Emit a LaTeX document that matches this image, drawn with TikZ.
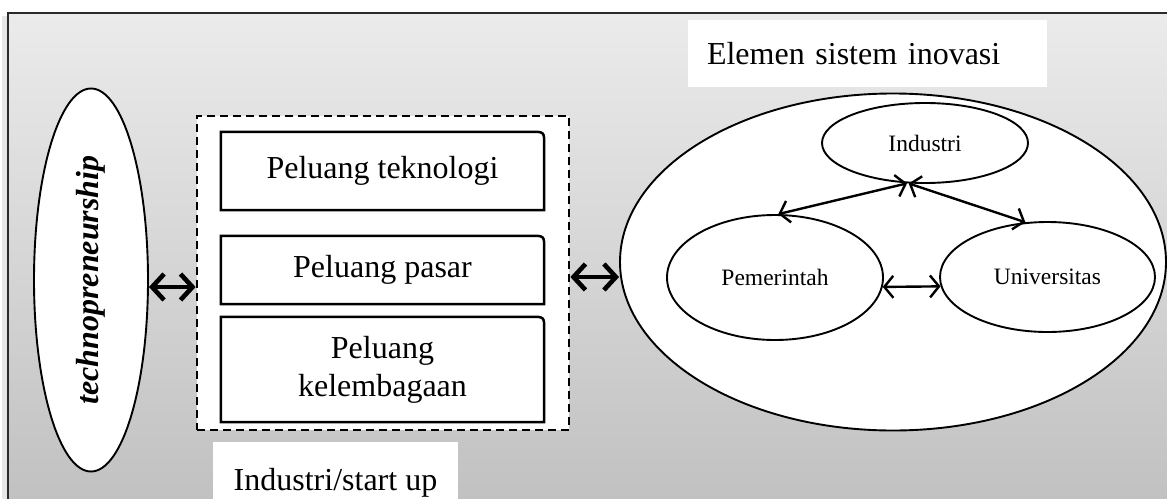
\documentclass[tikz,border=0pt]{standalone}
\usepackage{fontspec}
\setmainfont{Liberation Serif}
\usetikzlibrary{shapes.geometric,arrows.meta}
\definecolor{bgtop}{HTML}{EBEBEB}
\definecolor{bgbot}{HTML}{C1C1C1}
\definecolor{shadowc}{HTML}{E6E6E6}
\definecolor{framec}{HTML}{2A2A2A}
\newcommand\fbig{\fontsize{32}{38}\selectfont}
\newcommand\fsmall{\fontsize{23.5}{28}\selectfont}
\begin{document}
\begin{tikzpicture}[x=1pt,y=-1pt,
  ell/.style={ellipse, draw, fill=white, line width=1.9pt, inner sep=0pt},
  oppbox/.style={minimum width=323pt, inner sep=0pt, font=\fbig, align=center},
  boxline/.style={line width=2.5pt},
  dashbox/.style={draw, fill=white, line width=2.7pt, dash pattern=on 8pt off 5pt, inner sep=0pt},
  labelbox/.style={fill=white, inner sep=0pt, font=\fbig},
  bigarrow/.style={line width=4.6pt, {Straight Barb[length=12pt,width=26pt]}-{Straight Barb[length=12pt,width=26pt]}},
  thinarrow/.style={line width=2.4pt, {Straight Barb[length=9pt,width=22pt]}-{Straight Barb[length=9pt,width=22pt]}}
]
\useasboundingbox (0,0) rectangle (1167,498);
\clip (0,0) rectangle (1167,498);
% background frame with gradient
\fill[shadowc] (2,16) rectangle (8,520);
\shade[top color=bgtop, bottom color=bgbot] (8,13) rectangle (1180,500);
\draw[framec, line width=2pt] (1180,13) -- (8,13) -- (8,520);

% technopreneurship ellipse
\node[ell, minimum width=114pt, minimum height=383pt] (tech) at (91,280)
  {\rotatebox{90}{\fbig\bfseries\itshape technopreneurship}};

% dashed group
\node[dashbox, minimum width=372pt, minimum height=314pt] (grp) at (383,273) {};

% opportunity boxes
\node[oppbox, minimum height=78pt] (b1) at (382.5,171) {Peluang teknologi};
\node[oppbox, minimum height=68pt] (b2) at (382.5,270) {Peluang pasar};
\node[oppbox, minimum height=105pt] (b3) at (382.5,369.5) {Peluang\\kelembagaan};
\foreach \b in {b1,b2,b3}{
  \draw[boxline] (\b.south west) -- (\b.north west) -- ([xshift=-13pt]\b.north east)
    .. controls (\b.north east) .. ([yshift=-13pt]\b.north east) -- (\b.south east) -- cycle;
}

% label boxes
\node[labelbox, minimum width=245pt, minimum height=82pt] (isu) at (335.5,483) {Industri/start up};
\node[labelbox, minimum width=359pt, minimum height=67pt, text width=321pt, inner xsep=19pt, align=left] (esi) at (867.5,53.5) {Elemen sistem inovasi};

% innovation system
\node[ell, minimum width=546pt, minimum height=337pt] (sys) at (893,262) {};
\node[ell, minimum width=206pt, minimum height=80pt, font=\fsmall] (ind) at (925,143) {Industri};
\node[ell, minimum width=216pt, minimum height=125pt, font=\fsmall] (pem) at (775,277.5) {Pemerintah};
\node[ell, minimum width=215pt, minimum height=110pt, font=\fsmall] (uni) at (1047.5,277) {Universitas};

% connectors
\draw[bigarrow] ([yshift=-7pt]tech.east) -- ([yshift=-7pt]tech.east -| grp.west);
\draw[bigarrow] ([yshift=-4pt]grp.east) -- ([yshift=-4pt]grp.east -| sys.west);
\draw[thinarrow] (ind.246) -- (pem.87);
\draw[thinarrow] (ind.248) -- (uni.112);
\draw[thinarrow] (pem.-5) -- (uni.185);
\end{tikzpicture}
\end{document}
